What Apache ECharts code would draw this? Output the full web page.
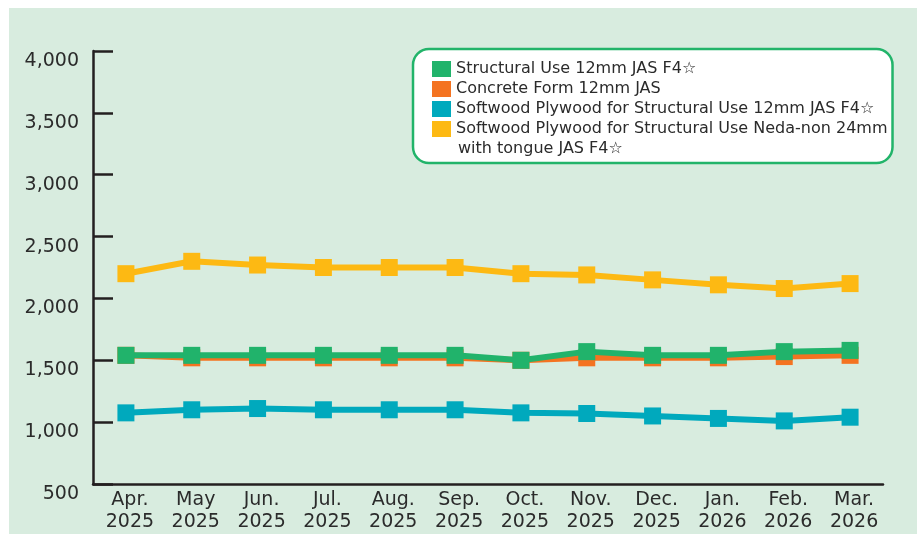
<!DOCTYPE html>
<html>
<head>
<meta charset="utf-8">
<script src="https://cdn.jsdelivr.net/npm/echarts@6/dist/echarts.min.js"></script>
<style>
html,body{margin:0;padding:0;background:#fff;width:919px;height:534px;overflow:hidden;}
#chart{position:absolute;left:9px;top:8px;width:908px;height:526px;}
</style>
</head>
<body>
<div id="chart"></div>
<script>
const categories = ['Apr.\n2025','May\n2025','Jun.\n2025','Jul.\n2025','Aug.\n2025','Sep.\n2025','Oct.\n2025','Nov.\n2025','Dec.\n2025','Jan.\n2026','Feb.\n2026','Mar.\n2026'];
const structural12 = [1540,1540,1540,1540,1540,1540,1500,1570,1540,1540,1570,1580];
const concrete12 = [1540,1520,1520,1520,1520,1520,1500,1520,1520,1520,1530,1540];
const softwood12 = [1075,1100,1110,1100,1100,1100,1075,1070,1050,1030,1010,1040];
const softwood24 = [2200,2300,2270,2250,2250,2250,2200,2190,2150,2110,2080,2120];
const seriesNames = [
  'Structural Use 12mm JAS F4☆',
  'Concrete Form 12mm JAS',
  'Softwood Plywood for Structural Use 12mm JAS F4☆',
  'Softwood Plywood for Structural Use Neda-non 24mm with tongue JAS F4☆'
];
const legendLine1 = 'Softwood Plywood for Structural Use Neda-non 24mm';
const legendLine2 = 'with tongue JAS F4☆';
const yMin = 500, yMax = 4000, yStep = 500;

const colors = ['#21b36b','#f47321','#00a9bd','#fdb913'];
const font = 'DejaVu Sans';
const txt = '#2b2b2b';
const axisCol = '#231f20';

const chart = echarts.init(document.getElementById('chart'), null, {renderer:'canvas'});
function mk(name, data, color, z){
  return {name, type:'line', data, z, symbol:'rect', symbolSize:17,
    itemStyle:{color}, lineStyle:{color, width:6}, emphasis:{disabled:true}, animation:false};
}
chart.setOption({
  backgroundColor:'#d8ecdf',
  animation:false,
  grid:{left:84, right:34, top:43, bottom:50},
  legend:{
    orient:'vertical', left:404, top:41,
    data:seriesNames,
    itemWidth:19, itemHeight:16, itemGap:0, itemTextGap:9,
    icon:'rect',
    padding:[10,5,24,19],
    backgroundColor:'#ffffff', borderColor:'#22b46a', borderWidth:2.5, borderRadius:16,
    textStyle:{fontFamily:font, fontSize:16, color:txt, lineHeight:20},
    formatter: n => n === seriesNames[3] ? legendLine1 : n,
    selectedMode:false
  },
  graphic:[{type:'text', left:449, top:133, style:{text:legendLine2, font:'16px "DejaVu Sans"', fill:txt}, z:100}],
  xAxis:{
    type:'category', data:categories, boundaryGap:true,
    axisLine:{lineStyle:{color:axisCol, width:2.5}},
    axisTick:{inside:true, alignWithLabel:true, length:10, lineStyle:{color:axisCol, width:2}},
    axisLabel:{fontFamily:font, fontSize:19, color:txt, lineHeight:22, margin:5, interval:0, padding:[0,0,0,8]}
  },
  yAxis:{
    type:'value', min:yMin, max:yMax, interval:yStep,
    axisLine:{show:true, lineStyle:{color:axisCol, width:2.5}},
    axisTick:{show:true, inside:true, length:20, lineStyle:{color:axisCol, width:2.5}},
    splitLine:{show:false},
    axisLabel:{fontFamily:font, fontSize:19, color:txt, margin:14, verticalAlign:'top', lineHeight:20,
      formatter:v=>v.toLocaleString('en-US')}
  },
  series:[
    mk(seriesNames[0], structural12, colors[0], 4),
    mk(seriesNames[1], concrete12, colors[1], 3),
    mk(seriesNames[2], softwood12, colors[2], 3),
    mk(seriesNames[3], softwood24, colors[3], 3)
  ]
});
</script>
</body>
</html>
